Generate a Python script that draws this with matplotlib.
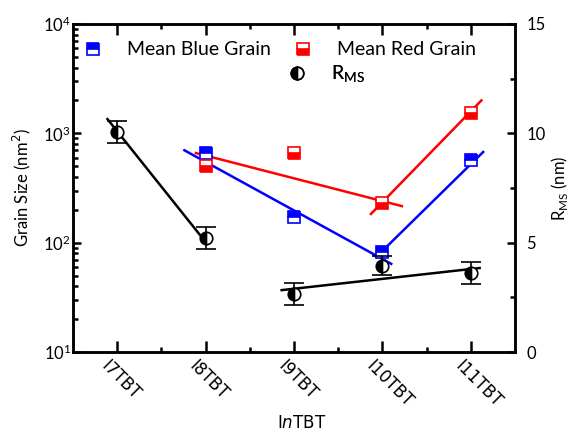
import numpy as np
import matplotlib.pyplot as plt
from matplotlib.lines import Line2D
from matplotlib.ticker import MultipleLocator, LogLocator, NullFormatter
from matplotlib.transforms import ScaledTranslation

# --- data ---
samples = ['I7TBT', 'I8TBT', 'I9TBT', 'I10TBT', 'I11TBT']

# grain size (nm^2), only I8..I11
grain_idx = [1, 2, 3, 4]
blue_grain = [660, 170, 82, 570]
red_grain = [500, 660, 230, 1540]

# RMS roughness (nm)
rms = [10.05, 5.2, 2.65, 3.95, 3.6]
rms_err = [0.5, 0.5, 0.5, 0.45, 0.5]

# guide lines (x in category units)
blue_fit1_x, blue_fit1_y = [0.76, 3.1], [700, 64]
blue_fit2_x, blue_fit2_y = [2.93, 4.14], [74, 675]
red_fit1_x, red_fit1_y = [0.89, 3.22], [660, 216]
red_fit2_x, red_fit2_y = [2.87, 4.12], [183, 2000]
rms_fit1_x, rms_fit1_y = [-0.11, 1.0], [10.65, 5.03]
rms_fit2_x, rms_fit2_y = [1.86, 4.1], [2.83, 3.84]


def main():
    plt.rcParams['font.family'] = ['Lato', 'DejaVu Sans']
    fig = plt.figure(figsize=(5.7, 4.36), dpi=100)
    ax = fig.add_axes([73 / 570, 1 - 352 / 436, 442 / 570, 328 / 436])
    ax2 = ax.twinx()

    x = np.arange(len(samples))

    # fit lines
    ax.plot(blue_fit1_x, blue_fit1_y, color='#0000ff', lw=1.8, zorder=2)
    ax.plot(blue_fit2_x, blue_fit2_y, color='#0000ff', lw=1.8, zorder=2)
    ax.plot(red_fit1_x, red_fit1_y, color='#ff0000', lw=1.8, zorder=2)
    ax.plot(red_fit2_x, red_fit2_y, color='#ff0000', lw=1.8, zorder=2)

    ms = 8.5
    blue_style = dict(marker='s', ls='none', color='#0000ff', fillstyle='top',
                      markerfacecoloralt='white', markersize=ms, mew=1.2)
    red_style = dict(marker='s', ls='none', color='#ff0000', fillstyle='bottom',
                     markerfacecoloralt='white', markersize=ms, mew=1.2)
    ax.plot(grain_idx, blue_grain, zorder=3, **blue_style)
    ax.plot(grain_idx, red_grain, zorder=3, **red_style)

    ax.set_yscale('log')
    ax.set_ylim(10, 1e4)
    ax.set_xlim(-0.5, 4.5)
    ax.yaxis.set_major_locator(LogLocator(base=10, numticks=10))
    ax.yaxis.set_minor_locator(LogLocator(base=10, subs=np.arange(2, 10), numticks=10))
    ax.yaxis.set_minor_formatter(NullFormatter())

    ax.set_xticks(x)
    ax.set_xticks(x[:-1] + 0.5, minor=True)
    ax.set_xticklabels(samples, rotation=-45, ha='left', va='top',
                       rotation_mode='anchor', family='DejaVu Sans', fontsize=11.5)
    ax.set_xlabel('I$\\mathit{n}$TBT', family='DejaVu Sans', fontsize=12, labelpad=2)
    ax.xaxis.label.set_x(0.518)
    ax.set_ylabel('Grain Size (nm$^2$)', fontsize=12, labelpad=7)

    ax.tick_params(axis='both', which='both', direction='in', width=1.8,
                   labelsize=12, top=True)
    ax.tick_params(axis='both', which='major', length=6)
    ax.tick_params(axis='both', which='minor', length=3.5)
    ax.tick_params(axis='y', which='major', pad=1.5)
    ax.tick_params(axis='x', which='major', length=8, pad=4)

    # nudge the rotated category labels a little to the left
    shift = ScaledTranslation(-7 / 100, 0, fig.dpi_scale_trans)
    for lbl in ax.get_xticklabels():
        lbl.set_transform(lbl.get_transform() + shift)

    # RMS on the right axis
    ax2.plot(rms_fit1_x, rms_fit1_y, color='black', lw=1.8, zorder=2)
    ax2.plot(rms_fit2_x, rms_fit2_y, color='black', lw=1.8, zorder=2)
    rms_style = dict(marker='o', color='black', fillstyle='left',
                     markerfacecoloralt='white', markersize=9, mew=1.2)
    ax2.errorbar(x, rms, yerr=rms_err, ls='none', ecolor='black', elinewidth=1.2,
                 capsize=7, capthick=1.2, zorder=3, **rms_style)
    ax2.set_ylim(0, 15)
    ax2.yaxis.set_major_locator(MultipleLocator(5))
    ax2.yaxis.set_minor_locator(MultipleLocator(2.5))
    ax2.tick_params(axis='y', which='both', direction='in', width=1.8, labelsize=12)
    ax2.tick_params(axis='y', which='major', length=6, pad=8)
    ax2.tick_params(axis='y', which='minor', length=3.5)
    ax2.set_ylabel('R$_{\\mathregular{MS}}$ (nm)', fontsize=12, labelpad=2.5)

    for a in (ax, ax2):
        for s in a.spines.values():
            s.set_linewidth(1.8)

    # legends, one entry each, placed like the reference
    entries = [
        (Line2D([], [], **blue_style), 'Mean Blue Grain', (0.023, 0.921)),
        (Line2D([], [], **red_style), 'Mean Red Grain', (0.498, 0.921)),
        (Line2D([], [], ls='none', **rms_style), 'R$_{\\mathregular{MS}}$', (0.485, 0.845)),
    ]
    for handle, label, anchor in entries:
        leg = ax2.legend([handle], [label], loc='center left', bbox_to_anchor=anchor,
                         frameon=False, fontsize=14, handlelength=1.0,
                         handletextpad=1.25, borderpad=0, borderaxespad=0)
        ax2.add_artist(leg)

    fig.savefig('out.png', dpi=100)


if __name__ == "__main__":
    main()
